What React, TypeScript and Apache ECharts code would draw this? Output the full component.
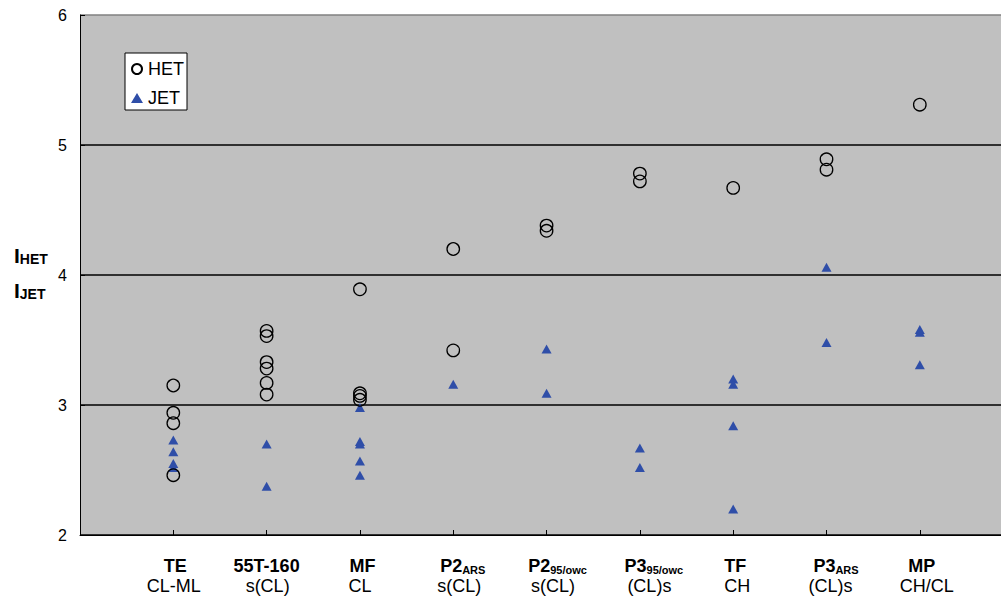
import React, { useEffect, useRef } from "react";
import * as echarts from "echarts";

const categoryNames = ["TE", "55T-160", "MF", "P2", "P2", "P3", "TF", "P3", "MP"];
const categorySubs = ["", "", "", "ARS", "95/owc", "95/owc", "", "ARS", ""];
const soilClasses = ["CL-ML", "s(CL)", "CL", "s(CL)", "s(CL)", "(CL)s", "CH", "(CL)s", "CH/CL"];

const hetValues: number[][] = [
  [3.15, 2.94, 2.86, 2.46],
  [3.57, 3.53, 3.33, 3.28, 3.17, 3.08],
  [3.89, 3.09, 3.07, 3.04],
  [4.2, 3.42],
  [4.38, 4.34],
  [4.78, 4.72],
  [4.67],
  [4.89, 4.81],
  [5.31],
];

const jetValues: number[][] = [
  [2.73, 2.64, 2.55, 2.52],
  [2.7, 2.375],
  [2.98, 2.72, 2.7, 2.57, 2.46],
  [3.16],
  [3.43, 3.09],
  [2.67, 2.52],
  [3.2, 3.16, 2.84, 2.2],
  [4.06, 3.48],
  [3.58, 3.56, 3.31],
];

const yTicks = [2, 3, 4, 5, 6];

const FONT = "Liberation Sans, Arial, sans-serif";

// label layout nudges (pixels to the right), first and second label line
const nameShift = [2, 0, 2.5, 9.5, 11, 14, 2, 9.5, 2];
const classShift = [0.5, 1, 0, 6, 6.5, 9.5, 4, 4, 7];

function toPoints(groups: number[][]) {
  const out: number[][] = [];
  groups.forEach((g, i) => g.forEach((v) => out.push([i + 1, v])));
  return out;
}

export default function App() {
  const ref = useRef<HTMLDivElement>(null);
  useEffect(() => {
    if (!ref.current) return;
    const chart = echarts.init(ref.current, undefined, { renderer: "svg" });

    const rich: Record<string, any> = {
      b: { fontSize: 18, fontWeight: "bold", fontFamily: FONT, color: "#000", lineHeight: 21, verticalAlign: "bottom" },
      s: { fontSize: 11, fontWeight: "bold", fontFamily: FONT, color: "#000", lineHeight: 14, verticalAlign: "bottom" },
      n: { fontSize: 18, fontFamily: FONT, color: "#000", lineHeight: 21 },
    };
    categoryNames.forEach((_, i) => {
      rich["pa" + i] = { width: Math.max(0, 2 * nameShift[i]), fontSize: 2, lineHeight: 2 };
      rich["pb" + i] = { width: Math.max(0, 2 * classShift[i]), fontSize: 2, lineHeight: 2 };
    });

    chart.setOption({
      animation: false,
      textStyle: { fontFamily: FONT },
      grid: {
        left: 80,
        top: 15,
        right: 0,
        bottom: 67,
        show: true,
        backgroundColor: "#c0c0c0",
        borderWidth: 0,
      },
      legend: {
        left: 125,
        top: 53,
        orient: "vertical",
        backgroundColor: "#fff",
        borderColor: "#000",
        borderWidth: 1,
        borderRadius: 0,
        padding: [7, 3, 3, 6],
        itemGap: 11,
        itemWidth: 12,
        itemHeight: 10,
        textStyle: { fontSize: 18, lineHeight: 18, color: "#000", fontFamily: FONT },
        data: ["HET", "JET"],
      },
      xAxis: {
        type: "value",
        min: 0,
        max: 9.87,
        interval: 1,
        splitLine: { show: false },
        axisLine: { lineStyle: { color: "#000", width: 1 } },
        axisTick: { inside: true, length: 5, lineStyle: { color: "#000" } },
        axisLabel: {
          margin: 19,
          showMaxLabel: false,
          color: "#000",
          formatter: (v: number) => {
            const i = Math.round(v) - 1;
            if (i < 0 || i >= categoryNames.length || Math.abs(v - Math.round(v)) > 1e-6) return "";
            const sub = categorySubs[i] ? `{s|${categorySubs[i]}}` : "";
            const pa = nameShift[i] > 0 ? `{pa${i}| }` : "";
            const pb = classShift[i] > 0 ? `{pb${i}| }` : "";
            return `${pa}{b|${categoryNames[i]}}${sub}\n${pb}{n|${soilClasses[i]}}`;
          },
          rich,
        },
      },
      yAxis: {
        type: "value",
        min: yTicks[0],
        max: yTicks[yTicks.length - 1],
        interval: 1,
        axisLine: { show: true, lineStyle: { color: "#000", width: 1 } },
        axisTick: { show: true, inside: true, length: 5, lineStyle: { color: "#000" } },
        axisLabel: { fontSize: 16, color: "#000", margin: 13, fontFamily: FONT },
        splitLine: {
          show: true,
          lineStyle: { color: ["#000", "#000", "#000", "#000", "#808080"], width: 1.5 },
        },
      },
      series: [
        {
          name: "HET",
          type: "scatter",
          symbol: "circle",
          symbolSize: 12.5,
          itemStyle: { color: "rgba(0,0,0,0)", borderColor: "#000", borderWidth: 1.3, opacity: 1 },
          data: toPoints(hetValues),
          z: 3,
        },
        {
          name: "JET",
          type: "scatter",
          symbol: "triangle",
          symbolSize: [10, 9],
          itemStyle: { color: "#2F4EA8", opacity: 1 },
          data: toPoints(jetValues),
          z: 2,
        },
      ],
      graphic: [
        {
          type: "text",
          left: 14,
          top: 245,
          style: {
            text: "{i|I}{s|HET}\n{i|I}{s|JET}",
            rich: {
              i: { fontSize: 21, fontWeight: "bold", fontFamily: FONT, fill: "#000", lineHeight: 35, verticalAlign: "bottom" },
              s: { fontSize: 14, fontWeight: "bold", fontFamily: FONT, fill: "#000", lineHeight: 29, verticalAlign: "bottom" },
            },
          },
        },
      ],
    });
    return () => chart.dispose();
  }, []);
  return (
    <div
      ref={ref}
      style={{ position: "absolute", left: 0, top: 0, width: 1001, height: 602 }}
    />
  );
}
